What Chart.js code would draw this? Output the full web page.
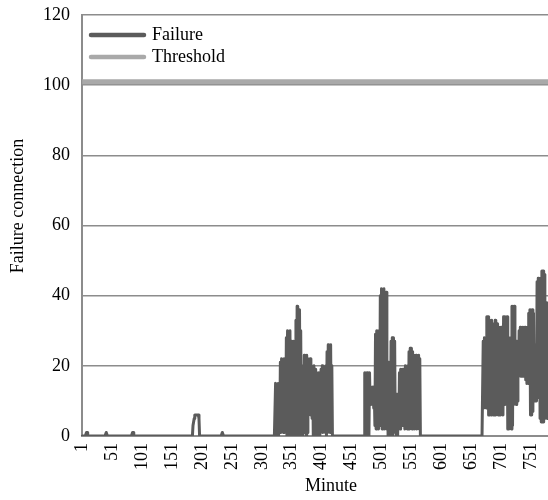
<!DOCTYPE html>
<html>
<head>
<meta charset="utf-8">
<script src="https://cdn.jsdelivr.net/npm/chart.js@4/dist/chart.umd.min.js"></script>
<style>
  html, body { margin: 0; padding: 0; background: #fff; overflow: hidden; }
  canvas { display: block; }
</style>
</head>
<body>
<canvas id="c" width="560" height="500"></canvas>
<script>
// ---- Data ----
const minuteCount = 780;
const minutes = Array.from({ length: minuteCount }, (_, i) => i + 1);
const tickLabels = [1, 51, 101, 151, 201, 251, 301, 351, 401, 451, 501, 551, 601, 651, 701, 751];
const yTicks = [0, 20, 40, 60, 80, 100, 120];
const thresholdValue = 101;
const xTitle = 'Minute';
const yTitle = 'Failure connection';

// minutes 1-323
const quietStart = [
  0,0,0,0,0,0,0,1,1,0,  0,0,0,0,0,0,0,0,0,0,  0,0,0,0,0,0,0,0,0,0,  0,0,0,0,0,0,0,0,0,0,
  1,1,0,0,0,0,0,0,0,0,  0,0,0,0,0,0,0,0,0,0,  0,0,0,0,0,0,0,0,0,0,  0,0,0,0,0,0,0,0,0,0,
  0,0,0,0,1,1,0,0,0,0,  0,0,0,0,0,0,0,0,0,0,  0,0,0,0,0,0,0,0,0,0,  0,0,0,0,0,0,0,0,0,0,
  0,0,0,0,0,0,0,0,0,0,  0,0,0,0,0,0,0,0,0,0,  0,0,0,0,0,0,0,0,0,0,  0,0,0,0,0,0,0,0,0,0,
  0,0,0,0,0,0,0,0,0,0,  0,0,0,0,0,0,0,0,0,0,  0,0,0,0,0,3,3,5,6,6,  6,6,6,6,6,5,0,0,0,0,
  0,0,0,0,0,0,0,0,0,0,  0,0,0,0,0,0,0,0,0,0,  0,0,0,0,0,0,0,0,0,0,  0,0,0,0,1,1,0,0,0,0,
  0,0,0,0,0,0,0,0,0,0,  0,0,0,0,0,0,0,0,0,0,  0,0,0,0,0,0,0,0,0,0,  0,0,0,0,0,0,0,0,0,0,
  0,0,0,0,0,0,0,0,0,0,  0,0,0,0,0,0,0,0,0,0,  0,0,0,0,0,0,0,0,0,0,  0,0,0,0,0,0,0,0,0,0,
  0,0,0
];
// minutes 324-419
const burstOne = [
  15,0,14,1,15,0,13,1,
  21,1,22,2,20,1,22,1,21,2,
  28,0,30,1,29,0,30,0,
  27,1,26,0,27,0,25,
  0,33,1,37,0,35,1,36,0,30,
  1,19,0,20,1,
  23,1,22,0,23,1,
  22,6,21,7,22,6,20,5,
  19,0,20,1,19,0,18,0,
  17,0,18,0,17,
  1,19,2,20,1,19,2,18,1,20,0,
  24,1,26,2,25,1,26,2,
  20,0
];
// minutes 420-472
const quietMiddle = [
  0,0,0,0,0,0,0,0,0,0,  0,0,0,0,0,0,0,0,0,0,  0,0,0,0,0,0,0,0,0,0,  0,0,0,0,0,0,0,0,0,0,
  0,0,0,0,0,0,0,0,0,0,  0,0,0
];
// minutes 473-565
const burstTwo = [
  18,0,17,1,18,0,17,0,18,
  9,14,10,13,9,14,8,12,
  3,29,2,30,3,28,2,30,3,
  40,3,42,2,41,3,42,2,40,3,41,
  2,21,0,21,1,20,0,
  27,1,28,0,28,2,27,1,
  12,0,11,0,12,
  3,18,2,19,3,18,3,19,
  3,19,2,20,3,19,2,20,
  3,24,2,25,3,25,2,24,
  3,23,2,22,3,23,2,22,3,23,2,22
];
// minutes 566-670
const quietLate = [
  0,0,0,0,0,0,0,0,0,0,  0,0,0,0,0,0,0,0,0,0,  0,0,0,0,0,0,0,0,0,0,  0,0,0,0,0,0,0,0,0,0,
  0,0,0,0,0,0,0,0,0,0,  0,0,0,0,0,0,0,0,0,0,  0,0,0,0,0,0,0,0,0,0,  0,0,0,0,0,0,0,0,0,0,
  0,0,0,0,0,0,0,0,0,0,  0,0,0,0,0,0,0,0,0,0,  0,0,0,0,0
];
// minutes 671-780
const burstThree = [
  27,8,28,9,27,8,34,8,
  34,6,33,6,
  32,6,33,7,32,6,31,7,33,6,32,7,32,6,
  31,6,30,6,31,7,31,6,
  34,9,34,10,33,9,34,
  2,28,2,27,3,28,
  2,37,3,36,
  9,37,10,
  26,9,27,10,26,
  17,30,18,31,17,30,17,31,18,30,17,
  31,16,30,15,31,
  15,35,16,36,
  6,35,6,36,7,35,
  10,26,10,25,
  10,44,12,45,11,
  44,5,45,
  4,47,5,47,4,46,
  5,38,6,38,5,37,6
];

const failure = [].concat(quietStart, burstOne, quietMiddle, burstTwo, quietLate, burstThree);

const FAILURE_COLOR = '#5b5b5b';
const THRESHOLD_COLOR = '#a9a9a9';
const GRID_COLOR = '#8c8c8c';
const FONT_FAMILY = "'Liberation Serif', 'Times New Roman', serif";
const FONT_SIZE = 18;

const insideLegend = {
  id: 'insideLegend',
  afterDraw(chart) {
    const { ctx, chartArea } = chart;
    const items = chart.data.datasets;
    ctx.save();
    ctx.font = FONT_SIZE + 'px ' + FONT_FAMILY;
    ctx.textBaseline = 'middle';
    ctx.textAlign = 'left';
    items.forEach((ds, i) => {
      const y = chartArea.top + 20 + i * 22;
      const x0 = chartArea.left + 9;
      ctx.strokeStyle = ds.borderColor;
      ctx.lineWidth = 4.5;
      ctx.lineCap = 'round';
      ctx.beginPath();
      ctx.moveTo(x0, y);
      ctx.lineTo(x0 + 53, y);
      ctx.stroke();
      ctx.fillStyle = '#000';
      ctx.fillText(ds.label, x0 + 61, y);
    });
    ctx.restore();
  }
};

const axisTitles = {
  id: 'axisTitles',
  afterDraw(chart) {
    const { ctx, chartArea } = chart;
    ctx.save();
    ctx.font = FONT_SIZE + 'px ' + FONT_FAMILY;
    ctx.fillStyle = '#000';
    ctx.textAlign = 'center';
    ctx.textBaseline = 'middle';
    ctx.fillText(xTitle, chartArea.left + 249, chartArea.bottom + 50);
    ctx.translate(chartArea.left - 64, chartArea.top + 191);
    ctx.rotate(-Math.PI / 2);
    ctx.fillText(yTitle, 0, 0);
    ctx.restore();
  }
};

new Chart(document.getElementById('c'), {
  type: 'line',
  data: {
    labels: minutes,
    datasets: [
      {
        label: 'Failure',
        data: failure,
        borderColor: FAILURE_COLOR,
        backgroundColor: FAILURE_COLOR,
        borderWidth: 3,
        pointRadius: 0,
        tension: 0,
        borderJoinStyle: 'round',
        borderCapStyle: 'round'
      },
      {
        label: 'Threshold',
        data: [
          { x: minutes[0], y: thresholdValue },
          { x: minutes[minutes.length - 1], y: thresholdValue }
        ],
        borderColor: THRESHOLD_COLOR,
        backgroundColor: THRESHOLD_COLOR,
        borderWidth: 5,
        pointRadius: 0,
        tension: 0
      }
    ]
  },
  options: {
    responsive: false,
    animation: false,
    events: [],
    layout: { padding: { top: 15, right: 8, left: 31, bottom: 23 } },
    plugins: {
      legend: { display: false },
      tooltip: { enabled: false }
    },
    scales: {
      x: {
        type: 'category',
        offset: true,
        grid: { display: false, drawTicks: false },
        border: { display: true, color: GRID_COLOR, width: 2 },
        ticks: {
          autoSkip: false,
          minRotation: 90,
          maxRotation: 90,
          padding: 7,
          color: '#000',
          font: { family: FONT_FAMILY, size: FONT_SIZE },
          callback: function (value, index) {
            const m = minutes[index];
            return tickLabels.includes(m) ? String(m) : null;
          }
        }
      },
      y: {
        min: 0,
        max: 120,
        afterBuildTicks: function (scale) {
          scale.ticks = yTicks.map(v => ({ value: v }));
        },
        afterFit: function (scale) {
          scale.paddingTop = 0;
        },
        grid: { color: GRID_COLOR, lineWidth: 1.5, drawTicks: false },
        border: { display: true, color: GRID_COLOR, width: 2 },
        ticks: {
          padding: 12,
          color: '#000',
          font: { family: FONT_FAMILY, size: FONT_SIZE }
        }
      }
    }
  },
  plugins: [insideLegend, axisTitles]
});
</script>
</body>
</html>
